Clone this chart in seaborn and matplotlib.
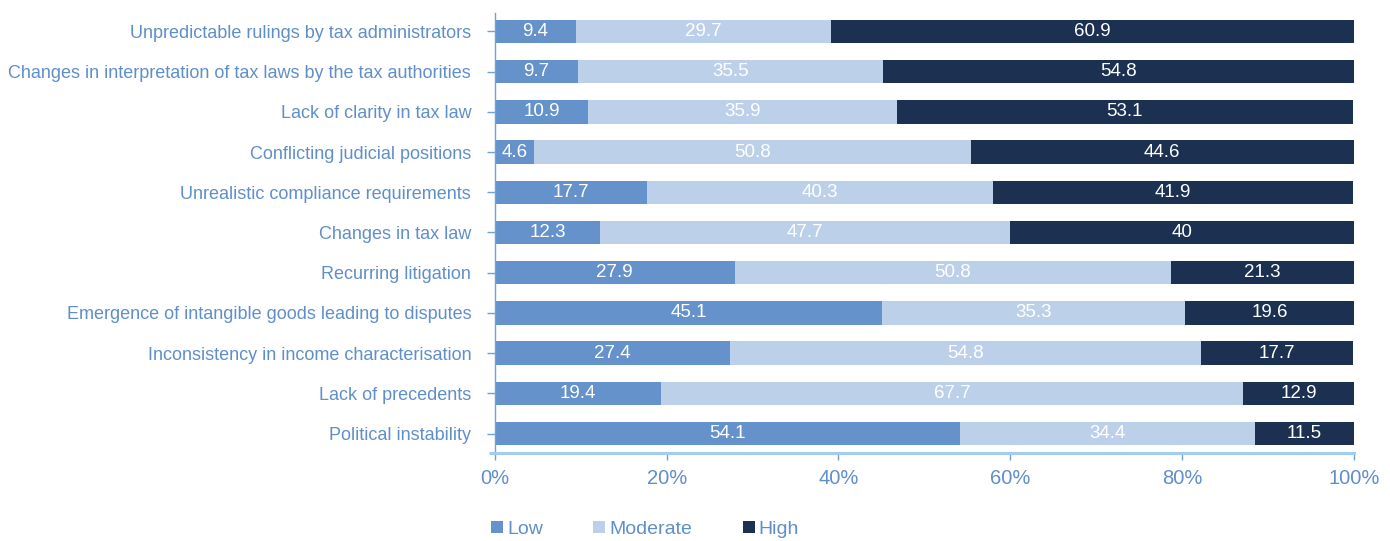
import matplotlib
matplotlib.use("Agg")
import matplotlib.pyplot as plt
from matplotlib.patches import Patch
import numpy as np
import pandas as pd
import seaborn as sns

categories = [
    "Unpredictable rulings by tax administrators",
    "Changes in interpretation of tax laws by the tax authorities",
    "Lack of clarity in tax law",
    "Conflicting judicial positions",
    "Unrealistic compliance requirements",
    "Changes in tax law",
    "Recurring litigation",
    "Emergence of intangible goods leading to disputes",
    "Inconsistency in income characterisation",
    "Lack of precedents",
    "Political instability",
]
low = [9.4, 9.7, 10.9, 4.6, 17.7, 12.3, 27.9, 45.1, 27.4, 19.4, 54.1]
moderate = [29.7, 35.5, 35.9, 50.8, 40.3, 47.7, 50.8, 35.3, 54.8, 67.7, 34.4]
high = [60.9, 54.8, 53.1, 44.6, 41.9, 40, 21.3, 19.6, 17.7, 12.9, 11.5]
series_names = ["Low", "Moderate", "High"]
x_ticks = [0, 20, 40, 60, 80, 100]

C_LOW = "#6592cb"
C_MOD = "#bcd0ea"
C_HIGH = "#1c3152"
TEXT = "#5f8fcb"
AXIS_LIGHT = "#a3cdf0"
AXIS_DARK = "#6aa3dc"

df = pd.DataFrame({"category": categories, "Low": low,
                   "Moderate": moderate, "High": high})
df["cum_low"] = df["Low"]
df["cum_mod"] = df["Low"] + df["Moderate"]
df["cum_high"] = df["cum_mod"] + df["High"]

sns.set_theme(style="white")
plt.rcParams["font.family"] = ["Liberation Sans", "DejaVu Sans"]

fig = plt.figure(figsize=(13.9, 5.41), dpi=100)
ax = fig.add_axes([0.356, 0.163, 0.618, 0.813])

# Stacked bars: draw cumulative totals from the longest to the shortest
for col, color in [("cum_high", C_HIGH), ("cum_mod", C_MOD), ("cum_low", C_LOW)]:
    sns.barplot(data=df, x=col, y="category", order=categories, orient="h",
                color=color, width=0.58, saturation=1, ax=ax,
                edgecolor="none", linewidth=0)

# Segment value labels
for i in range(len(categories)):
    starts = [0, df["cum_low"][i], df["cum_mod"][i]]
    vals = [low[i], moderate[i], high[i]]
    for s, v in zip(starts, vals):
        ax.text(s + v / 2, i, f"{v:g}", ha="center", va="center",
                color="white", fontsize=13.5)

ax.set_xlim(0, 100)
ax.set_ylim(10.48, -0.46)
ax.set_xticks(x_ticks)
ax.set_xticklabels([f"{t}%" for t in x_ticks])
ax.set_xlabel("")
ax.set_ylabel("")

for side in ["top", "right"]:
    ax.spines[side].set_visible(False)
ax.spines["left"].set_color(AXIS_DARK)
ax.spines["left"].set_linewidth(1.0)
ax.spines["bottom"].set_color(AXIS_LIGHT)
ax.spines["bottom"].set_linewidth(2.2)
# short stub of the baseline to the left of the value axis
ax.plot([-0.007, 0], [0, 0], transform=ax.transAxes, color=AXIS_LIGHT,
        linewidth=2.2, clip_on=False, solid_capstyle="butt")

ax.tick_params(axis="y", length=6, width=1, color=AXIS_DARK,
               labelcolor=TEXT, labelsize=13, pad=11, left=True)
ax.tick_params(axis="x", length=5, width=1, color=AXIS_DARK,
               labelcolor=TEXT, labelsize=14.5, pad=7, bottom=True,
               direction="out")
ax.grid(False)

handles = [Patch(facecolor=c, edgecolor="none") for c in (C_LOW, C_MOD, C_HIGH)]
leg = fig.legend(handles, series_names, loc="center left",
                 bbox_to_anchor=(0.3406, 0.022), ncol=3, frameon=False,
                 fontsize=14, handlelength=0.62, handleheight=0.62,
                 handletextpad=0.2, columnspacing=2.6)
for t in leg.get_texts():
    t.set_color(TEXT)

fig.savefig("out.png", dpi=100)
